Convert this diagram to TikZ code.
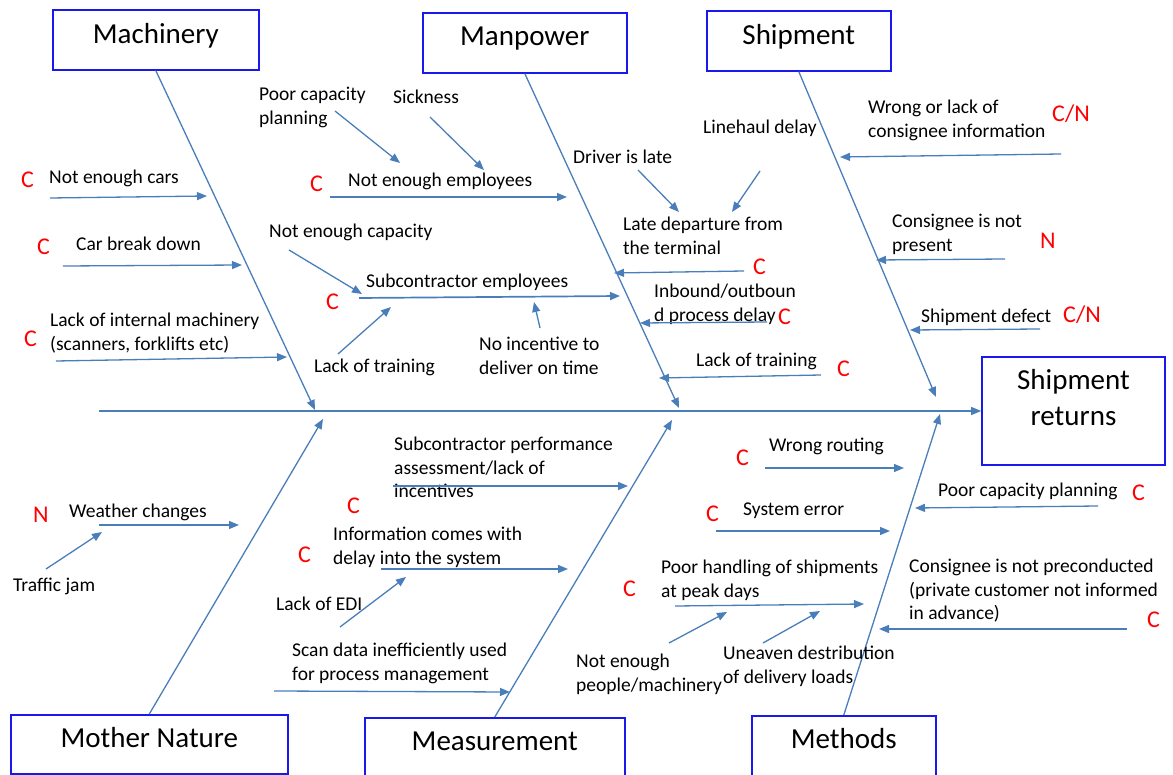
\documentclass[tikz,border=0pt]{standalone}
\usepackage{fontspec}
\setmainfont{Carlito}
\usetikzlibrary{arrows.meta}
\definecolor{bone}{RGB}{74,126,187}
\definecolor{boxblue}{RGB}{25,25,235}
\begin{document}
\begin{tikzpicture}[x=1pt,y=-1pt,
 catbox/.style={draw=boxblue, line width=1.6pt, inner sep=0pt, anchor=north west, font=\fontsize{29}{36}\selectfont},
 lbl/.style={inner sep=0pt, anchor=base west, font=\fontsize{19.5}{23.5}\selectfont},
 mlbl/.style={inner sep=0pt, anchor=north west, align=left, font=\fontsize{19.5}{23.5}\selectfont},
 tag/.style={inner sep=0pt, anchor=base west, text=red, font=\fontsize{24}{28}\selectfont},
 arr/.style={draw=bone, line width=1.3pt, -{Triangle[length=10pt,width=8pt]}},
 ]
\useasboundingbox (0,0) rectangle (1173,775);

% category boxes
\node[catbox, minimum width=206pt, text height=34pt, text depth=26pt] (mach) at (52,9) {Machinery};
\node[catbox, minimum width=204pt, text height=33pt, text depth=27pt] (mp) at (422,12) {Manpower};
\node[catbox, minimum width=184pt, text height=34pt, text depth=26pt] (sh) at (706,10) {Shipment};
\node[catbox, minimum width=277pt, text height=33pt, text depth=26pt] (mn) at (10,714) {Mother Nature};
\node[catbox, minimum width=260pt, text height=33pt, text depth=30pt] (me) at (364,717) {Measurement};
\node[catbox, minimum width=184pt, text height=33pt, text depth=32pt] (mt) at (751,715) {Methods};
\node[catbox, anchor=center, minimum width=183pt, minimum height=108pt,
  label={[align=center, inner sep=0pt, font=\fontsize{29}{36}\selectfont, yshift=13pt]center:Shipment\\returns}] (sr) at (1073.5,411) {};

% spine and bones
\coordinate (sp) at (99,411);
\draw[arr] (sp) -- (sr.west);
\coordinate (bm) at (315,410);
\draw[arr] (mach.south) -- (bm);
\coordinate (bp) at (679,408);
\draw[arr] (mp.south) -- (bp);
\coordinate (bs) at (936,397);
\draw[arr] (sh.south) -- (bs);
\coordinate (bn) at (323,419);
\draw[arr] (mn.north) -- (bn);
\coordinate (be) at (672,420);
\draw[arr] (me.north) -- (be);
\coordinate (bt) at (940,414);
\draw[arr] (mt.north) -- (bt);

% Machinery causes
\node[tag] (c1) at (21,188) {C};
\node[lbl] (t1) at (49,184) {Not enough cars};
\coordinate (a1s) at (50,198); \coordinate (a1e) at (207,196);
\draw[arr] (a1s) -- (a1e);
\node[tag] (c2) at (37,255) {C};
\node[lbl] (t2) at (76,251) {Car break down};
\coordinate (a2s) at (63,266); \coordinate (a2e) at (242,265);
\draw[arr] (a2s) -- (a2e);
\node[tag] (c3) at (24,347) {C};
\node[mlbl] (t3) at (50,313) {Lack of internal machinery\\(scanners, forklifts etc)};
\coordinate (a3s) at (56,361); \coordinate (a3e) at (287,357);
\draw[arr] (a3s) -- (a3e);

% Manpower causes (left)
\node[mlbl] (t4) at (259,87) {Poor capacity\\planning};
\coordinate (a4s) at (335,111); \coordinate (a4e) at (400,163);
\draw[arr] (a4s) -- (a4e);
\node[lbl] (t5) at (393,104) {Sickness};
\coordinate (a5s) at (430,117); \coordinate (a5e) at (484,170);
\draw[arr] (a5s) -- (a5e);
\node[tag] (c6) at (310,192) {C};
\node[lbl] (t6) at (348,187) {Not enough employees};
\coordinate (a6s) at (330,197); \coordinate (a6e) at (567,197);
\draw[arr] (a6s) -- (a6e);
\node[lbl] (t7) at (269,238) {Not enough capacity};
\coordinate (a7s) at (289,250); \coordinate (a7e) at (362,294);
\draw[arr] (a7s) -- (a7e);
\node[tag] (c8) at (326,310) {C};
\node[lbl] (t8) at (366,288) {Subcontractor employees};
\coordinate (a8s) at (359,298); \coordinate (a8e) at (620,296);
\draw[arr, line width=1.7pt] (a8s) -- (a8e);
\node[lbl] (t9) at (314,373) {Lack of training};
\coordinate (a9s) at (338,354); \coordinate (a9e) at (391,307);
\draw[arr] (a9s) -- (a9e);
\node[mlbl] (t10) at (479,337) {No incentive to\\deliver on time};
\coordinate (a10s) at (540,328); \coordinate (a10e) at (534,302);
\draw[arr] (a10s) -- (a10e);

% Manpower causes (right)
\node[lbl] (t11) at (573,164) {Driver is late};
\coordinate (a11s) at (638,170); \coordinate (a11e) at (679,212);
\draw[arr] (a11s) -- (a11e);
\node[lbl] (t12) at (703,134) {Linehaul delay};
\coordinate (a12s) at (760,171); \coordinate (a12e) at (732,212);
\draw[arr] (a12s) -- (a12e);
\node[mlbl] (t13) at (623,217) {Late departure from\\the terminal};
\node[tag] (c13) at (753,275) {C};
\coordinate (a13s) at (744,271); \coordinate (a13e) at (614,273);
\draw[arr] (a13s) -- (a13e);
\node[mlbl] (t14) at (654,284) {Inbound/outboun\\d process delay};
\node[tag] (c14) at (778,325) {C};
\coordinate (a14s) at (767,322); \coordinate (a14e) at (640,323);
\draw[arr] (a14s) -- (a14e);
\node[lbl] (t15) at (696,367) {Lack of training};
\node[tag] (c15) at (837,377) {C};
\coordinate (a15s) at (821,375); \coordinate (a15e) at (659,378);
\draw[arr] (a15s) -- (a15e);

% Shipment causes
\node[mlbl] (t16) at (868,100) {Wrong or lack of\\consignee information};
\node[tag] (c16) at (1052,122) {C/N};
\coordinate (a16s) at (1061,154); \coordinate (a16e) at (840,157);
\draw[arr] (a16s) -- (a16e);
\node[mlbl] (t17) at (892,214) {Consignee is not\\present};
\node[tag] (c17) at (1040,249) {N};
\coordinate (a17s) at (1005,259); \coordinate (a17e) at (876,260);
\draw[arr] (a17s) -- (a17e);
\node[lbl] (t18) at (921,323) {Shipment defect};
\node[tag] (c18) at (1063,323) {C/N};
\coordinate (a18s) at (1040,329); \coordinate (a18e) at (910,330);
\draw[arr] (a18s) -- (a18e);

% Mother Nature causes
\node[tag] (c19) at (33,522) {N};
\node[lbl] (t19) at (69,517) {Weather changes};
\coordinate (a19s) at (99,525); \coordinate (a19e) at (239,525);
\draw[arr] (a19s) -- (a19e);
\node[lbl] (t20) at (13,591) {Traffic jam};
\coordinate (a20s) at (46,569); \coordinate (a20e) at (102,532);
\draw[arr] (a20s) -- (a20e);

% Measurement causes
\node[mlbl] (t21) at (394,437) {Subcontractor performance\\assessment/lack of\\incentives};
\coordinate (a21s) at (393,486); \coordinate (a21e) at (628,486);
\draw[arr] (a21s) -- (a21e);
\node[tag] (c21) at (347,513) {C};
\node[mlbl] (t22) at (333,527) {Information comes with\\delay into the system};
\node[tag] (c22) at (298,562) {C};
\coordinate (a22s) at (381,569); \coordinate (a22e) at (568,569);
\draw[arr] (a22s) -- (a22e);
\node[lbl] (t23) at (276,610) {Lack of EDI};
\coordinate (a23s) at (340,627); \coordinate (a23e) at (406,577);
\draw[arr] (a23s) -- (a23e);
\node[mlbl] (t24) at (292,643) {Scan data inefficiently used\\for process management};
\coordinate (a24s) at (274,691); \coordinate (a24e) at (510,692);
\draw[arr] (a24s) -- (a24e);

% Methods causes
\node[tag] (c25) at (736,465) {C};
\node[lbl] (t25) at (769,452) {Wrong routing};
\coordinate (a25s) at (765,468); \coordinate (a25e) at (904,468);
\draw[arr] (a25s) -- (a25e);
\node[tag] (c26) at (706,521) {C};
\node[lbl] (t26) at (743,515) {System error};
\coordinate (a26s) at (716,531); \coordinate (a26e) at (890,531);
\draw[arr] (a26s) -- (a26e);
\node[lbl] (t27) at (938,496) {Poor capacity planning};
\node[tag] (c27) at (1132,500) {C};
\coordinate (a27s) at (1098,506); \coordinate (a27e) at (915,508);
\draw[arr] (a27s) -- (a27e);
\node[tag] (c28) at (623,596) {C};
\node[mlbl] (t28) at (661,560) {Poor handling of shipments\\at peak days};
\coordinate (a28s) at (675,606); \coordinate (a28e) at (864,604);
\draw[arr] (a28s) -- (a28e);
\node[mlbl] (t29) at (576,654) {Not enough\\people/machinery};
\coordinate (a29s) at (669,643); \coordinate (a29e) at (727,612);
\draw[arr] (a29s) -- (a29e);
\node[mlbl] (t30) at (723,646) {Uneaven destribution\\of delivery loads};
\coordinate (a30s) at (763,643); \coordinate (a30e) at (820,611);
\draw[arr] (a30s) -- (a30e);
\node[mlbl] (t31) at (909,559) {Consignee is not preconducted\\(private customer not informed\\in advance)};
\node[tag] (c31) at (1147,627) {C};
\coordinate (a31s) at (1127,629); \coordinate (a31e) at (879,629);
\draw[arr] (a31s) -- (a31e);
\end{tikzpicture}
\end{document}
